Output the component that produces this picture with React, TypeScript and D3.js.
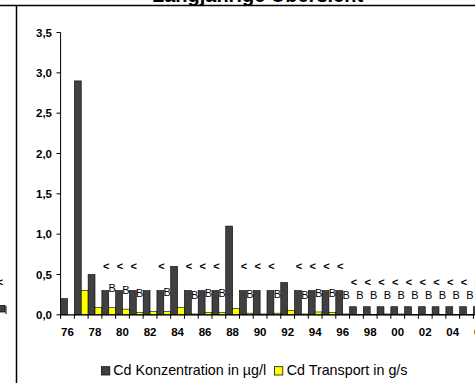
import React from "react";
import * as d3 from "d3";

const yearLabels = ["76","77","78","79","80","81","82","83","84","85","86","87","88","89","90","91","92","93","94","95","96","97","98","99","00","01","02","03","04","05","06"];
const concentration = [0.2, 2.9, 0.5, 0.3, 0.3, 0.3, 0.3, 0.3, 0.6, 0.3, 0.3, 0.3, 1.1, 0.3, 0.3, 0.3, 0.4, 0.3, 0.3, 0.3, 0.3, 0.1, 0.1, 0.1, 0.1, 0.1, 0.1, 0.1, 0.1, 0.1, 0.1];
const transport = [0, 0.3, 0.09, 0.09, 0.07, 0.03, 0.04, 0.04, 0.09, 0.01, 0.03, 0.03, 0.08, 0.02, 0.01, 0.02, 0.055, 0.01, 0.035, 0.03, 0.01, 0.005, 0.005, 0.01, 0.01, 0.005, 0.003, 0.003, 0.003, 0.003, 0.003];
const lessThanYears = ["79","80","81","83","85","86","87","89","90","91","93","94","95","96","97","98","99","00","01","02","03","04","05","06"];
const bYears = ["79","80","81","83","85","86","87","89","91","93","94","95","96","97","98","99","00","01","02","03","04","05","06"];
const yTicks = [0, 0.5, 1.0, 1.5, 2.0, 2.5, 3.0, 3.5];
const xTickLabels = ["76","78","80","82","84","86","88","90","92","94","96","98","00","02","04","06"];
const seriesNames = ["Cd Konzentration in µg/l", "Cd Transport in g/s"];
const title = "Langjährige Übersicht";

const FONT = "'Liberation Sans', Arial, sans-serif";
const DARK = "#404040";
const YELLOW = "#FFFF00";

export default function App() {
  const x0 = 60.6;
  const step = 13.76;
  const x = d3.scaleBand<string>().domain(yearLabels).range([x0, x0 + step * yearLabels.length]).padding(0);
  const inner = d3.scaleBand<string>().domain(["c", "t"]).range([0, x.bandwidth()]).padding(0);
  const y = d3.scaleLinear().domain([0, 3.5]).range([314.8, 32.5]);
  const fmt = (v: number) => d3.format(".1f")(v).replace(".", ",");

  return (
    <svg width={475} height={383} style={{ position: "absolute", left: 0, top: 0, background: "#fff" }} fontFamily={FONT}>
      <rect x={0} y={0} width={475} height={383} fill="#fff" />
      {/* title (cut off at top) */}
      <text x={257.5} y={1.5} textAnchor="middle" fontSize={20} fontWeight="bold" fill="#000">{title}</text>
      {/* frame lines */}
      <line x1={0} x2={475} y1={5.5} y2={5.5} stroke="#000" strokeWidth={1.5} />
      <line x1={16.5} x2={16.5} y1={5.5} y2={383} stroke="#000" strokeWidth={1.5} />
      {/* fragment of neighbouring panel */}
      <rect x={-3} y={305.5} width={8} height={6.5} fill={DARK} stroke="#000" strokeWidth={0.75} />
      <line x1={6} x2={6} y1={306} y2={314} stroke="#000" strokeWidth={1} />
      <text x={0} y={286} textAnchor="middle" fontSize={11} fontWeight="bold" fill="#000">{"<"}</text>

      {/* y axis */}
      <line x1={60.6} x2={60.6} y1={y(3.5)} y2={y(0)} stroke="#000" strokeWidth={1} />
      {yTicks.map((t) => (
        <g key={t}>
          <line x1={56.5} x2={60.6} y1={y(t)} y2={y(t)} stroke="#000" strokeWidth={1} />
          <text x={52} y={y(t) + 4.1} textAnchor="end" fontSize={11.5} fontWeight="bold" fill="#000">{fmt(t)}</text>
        </g>
      ))}

      {/* bars */}
      {yearLabels.map((yr, i) => {
        const bx = x(yr)!;
        return (
          <g key={yr}>
            <rect x={bx + inner("c")!} y={y(concentration[i])} width={inner.bandwidth()} height={y(0) - y(concentration[i])} fill={DARK} stroke="#000" strokeWidth={0.6} />
            <rect x={bx + inner("t")!} y={y(transport[i])} width={inner.bandwidth()} height={y(0) - y(transport[i])} fill={YELLOW} stroke="#000" strokeWidth={0.6} />
          </g>
        );
      })}

      {/* x axis */}
      <line x1={60.6} x2={475} y1={y(0)} y2={y(0)} stroke="#000" strokeWidth={1.2} />
      {yearLabels.concat(["end"]).map((yr, i) => (
        <line key={"tk" + i} x1={x0 + step * i} x2={x0 + step * i} y1={y(0)} y2={y(0) + 4} stroke="#000" strokeWidth={1} />
      ))}
      {xTickLabels.map((l) => (
        <text key={"xl" + l} x={x(l)! + x.bandwidth() / 2} y={336.4} textAnchor="middle" fontSize={11.5} fontWeight="bold" fill="#000">{l}</text>
      ))}

      {/* "<" labels above concentration bars */}
      {lessThanYears.map((yr) => {
        const i = yearLabels.indexOf(yr);
        const cx = x(yr)! + inner("c")! + inner.bandwidth() / 2 + 1;
        return (
          <text key={"lt" + yr} x={cx} y={y(concentration[i]) - 25 + 3.9} textAnchor="middle" fontSize={11} fontWeight="bold" fill="#000">{"<"}</text>
        );
      })}

      {/* "B" labels above transport bars */}
      {bYears.map((yr) => {
        const i = yearLabels.indexOf(yr);
        const cx = x(yr)! + inner("t")! + inner.bandwidth() / 2;
        return (
          <text key={"b" + yr} x={cx} y={y(transport[i]) - 19 + 3.9} textAnchor="middle" fontSize={11} fill="#000">{"B"}</text>
        );
      })}

      {/* legend */}
      <rect x={101.5} y={366.7} width={8.3} height={8.3} fill={DARK} stroke="#000" strokeWidth={0.75} />
      <text x={113.3} y={375} fontSize={14.3} fill="#000">{seriesNames[0]}</text>
      <rect x={274.5} y={366.7} width={8.3} height={8.3} fill={YELLOW} stroke="#000" strokeWidth={0.75} />
      <text x={286.7} y={375} fontSize={14.3} fill="#000">{seriesNames[1]}</text>
    </svg>
  );
}
